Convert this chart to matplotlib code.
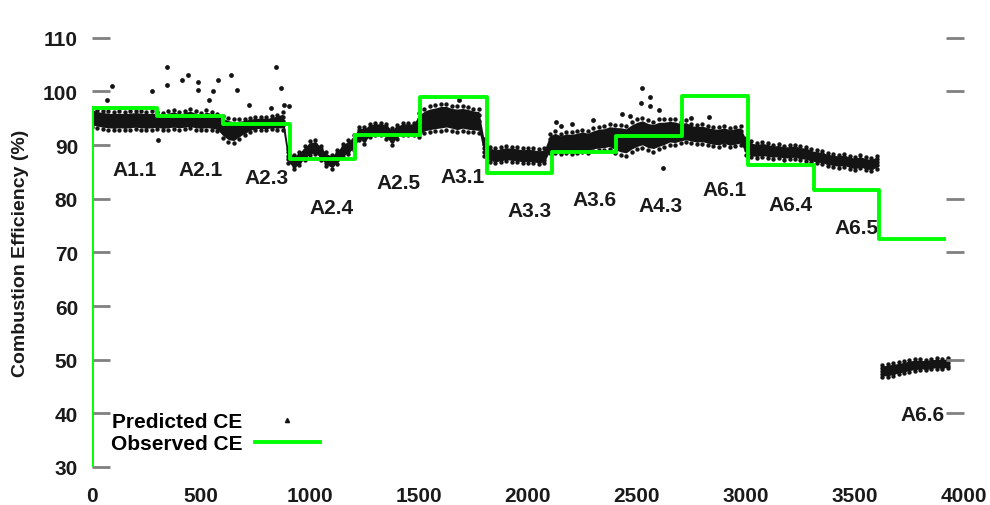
import matplotlib
matplotlib.use('Agg')
import matplotlib.pyplot as plt
from matplotlib.lines import Line2D
import numpy as np

plt.rcParams['font.family'] = ['Liberation Sans', 'DejaVu Sans']
plt.rcParams['font.weight'] = 'bold'

# observed CE step line (x = sample index where each level starts)
obs_x = [0, 0, 300, 600, 910, 1207, 1504, 1810, 2110, 2405, 2705, 3010, 3312, 3612, 3910]
obs_y = [30, 96.9, 95.4, 94.0, 87.4, 91.9, 99.0, 84.8, 88.7, 91.7, 99.2, 86.3, 81.6, 72.5, 72.5]

# predicted CE cloud: centre and half-width, read every 25 samples (0 .. 3600)
pred_x = np.arange(0, 3601, 25)
pred_mid = [
    95.2, 94.9, 94.7, 94.6, 94.5, 94.6, 94.5, 94.6, 94.7, 94.6, 94.5, 94.6,   # A1.1
    94.6, 94.4, 94.6, 94.8, 94.5, 94.7, 94.9, 94.6, 94.4, 94.7, 94.5, 94.2,   # A2.1
    93.4, 92.8, 92.6, 93.0, 93.4, 93.8, 94.0, 94.1, 94.0, 94.2, 94.3, 94.5,   # A2.3
    88.0, 86.8, 87.5, 88.5, 89.4, 89.6, 88.6, 87.4, 86.9, 87.8, 89.0, 89.6,   # A2.4
    90.5, 92.2, 91.8, 92.8, 93.0, 93.0, 92.6, 91.6, 92.5, 93.0, 93.0, 93.0,   # A2.5
    93.8, 94.5, 94.8, 95.0, 95.2, 95.3, 95.0, 94.8, 95.0, 94.8, 94.6, 94.5,   # A3.1
    89.5, 88.3, 88.0, 88.2, 88.4, 88.3, 88.2, 88.0, 88.1, 88.0, 87.8, 88.0,   # A3.3
    90.3, 90.6, 90.2, 90.5, 90.4, 90.6, 90.8, 90.6, 91.0, 91.2, 91.3, 91.6,   # A3.6
    91.2, 91.0, 90.8, 91.5, 92.0, 92.3, 91.8, 91.6, 92.0, 92.2, 92.5, 92.4,   # A4.3
    92.4, 92.6, 92.2, 92.0, 92.1, 91.8, 91.6, 91.5, 91.8, 91.4, 91.6, 91.8,   # A6.1
    89.8, 89.2, 89.0, 89.2, 89.0, 88.8, 88.9, 88.6, 88.7, 88.8, 88.5, 88.4,   # A6.4
    88.0, 87.8, 87.7, 87.3, 87.2, 87.0, 87.2, 86.8, 86.6, 86.9, 86.5, 86.4, 86.8,  # A6.5
]
pred_half = [
    1.8, 1.7, 1.7, 1.7, 1.7, 1.7, 1.7, 1.7, 1.7, 1.7, 1.7, 1.7,
    1.6, 1.6, 1.7, 1.8, 1.6, 1.7, 1.8, 1.7, 1.6, 1.8, 1.7, 1.6,
    2.0, 2.2, 2.2, 1.8, 1.5, 1.3, 1.2, 1.2, 1.2, 1.2, 1.4, 1.6,
    1.3, 1.3, 1.3, 1.3, 1.3, 1.3, 1.3, 1.3, 1.3, 1.3, 1.3, 1.3,
    1.4, 1.2, 1.6, 1.2, 1.2, 1.2, 1.4, 1.6, 1.3, 1.2, 1.2, 1.2,
    2.2, 2.3, 2.4, 2.4, 2.5, 2.4, 2.3, 2.4, 2.3, 2.3, 2.2, 2.2,
    1.6, 1.4, 1.4, 1.4, 1.4, 1.4, 1.4, 1.4, 1.4, 1.4, 1.4, 1.4,
    1.8, 2.0, 1.9, 2.0, 2.0, 2.0, 2.1, 2.0, 2.1, 2.2, 2.2, 2.3,
    2.6, 2.8, 2.8, 2.8, 2.8, 2.8, 2.8, 2.8, 2.8, 2.6, 2.4, 2.4,
    2.0, 2.0, 1.8, 1.8, 1.8, 1.8, 1.8, 1.8, 1.8, 1.8, 1.8, 1.8,
    1.6, 1.5, 1.4, 1.4, 1.4, 1.3, 1.3, 1.3, 1.3, 1.3, 1.3, 1.3,
    1.2, 1.2, 1.2, 1.2, 1.2, 1.2, 1.2, 1.2, 1.2, 1.2, 1.2, 1.2, 1.2,
]

# A6.6 cloud (separate, low)
a66_x = np.arange(3625, 3926, 25)
a66_mid = [47.9, 48.0, 48.2, 48.4, 48.6, 48.9, 49.0, 49.1, 49.0, 49.2, 49.3, 49.2, 49.4]
a66_half = [1.2, 1.2, 1.2, 1.1, 1.1, 1.1, 1.1, 1.0, 1.0, 1.0, 1.0, 1.0, 1.0]

# scattered predicted points away from the dense band
out_x = [91, 68, 274, 302, 343, 343, 411, 439, 485, 485, 539, 553, 576, 640, 667, 722,
         823, 846, 868, 882, 905, 1685, 2130, 2200, 2300, 2150, 2430, 2470, 2519, 2523,
         2560, 2560, 2600, 2619, 2750, 2830]
out_y = [101.0, 98.4, 100.0, 91.0, 104.6, 101.2, 102.2, 103.1, 101.8, 100.3, 98.4, 100.0,
         102.2, 103.1, 100.3, 97.5, 96.9, 104.6, 100.7, 97.5, 97.2, 98.4, 94.3, 94.0, 94.6,
         93.6, 95.8, 95.5, 97.9, 100.7, 99.0, 97.2, 96.6, 85.7, 95.0, 95.3]

# run labels
run_names = ['A1.1', 'A2.1', 'A2.3', 'A2.4', 'A2.5', 'A3.1', 'A3.3', 'A3.6', 'A4.3',
             'A6.1', 'A6.4', 'A6.5', 'A6.6']
run_x = [197, 498, 800, 1100, 1405, 1700, 2005, 2306, 2606, 2903, 3205, 3506, 3808]
run_y = [85.4, 85.4, 83.9, 78.3, 83.0, 84.1, 77.9, 79.8, 78.8, 81.8, 79.0, 74.7, 39.7]

fig = plt.figure(figsize=(9.9, 5.06), dpi=100)
ax = fig.add_axes([0.0929, 0.0751, 0.8808, 0.9012])

dot = '#141414'
txt = '#1a1a1a'
mid = np.array(pred_mid)
half = np.array(pred_half)
ax.fill_between(pred_x, mid - half * 0.8, mid + half * 0.8, color=dot, lw=0)
for k in (-1, -0.5, 0, 0.5, 1):
    ax.scatter(pred_x, mid + k * half, s=10, color=dot, lw=0)
m66 = np.array(a66_mid)
h66 = np.array(a66_half)
ax.fill_between(a66_x, m66 - h66 * 0.8, m66 + h66 * 0.8, color=dot, lw=0)
for k in (-1, -0.5, 0, 0.5, 1):
    ax.scatter(a66_x, m66 + k * h66, s=10, color=dot, lw=0)
ax.scatter(out_x, out_y, s=12, color=dot, lw=0)

ax.plot(obs_x, obs_y, drawstyle='steps-post', color='#00ff00', lw=2.8, zorder=5)

for name, x, y in zip(run_names, run_x, run_y):
    ax.text(x, y, name, ha='center', va='center', fontsize=15, color=txt)

ax.set_xlim(0, 4000)
ax.set_ylim(30, 115)
ax.set_xticks(np.arange(0, 4001, 500))
ax.set_xticks([1500, 2500, 4000], minor=True)
ax.set_yticks(np.arange(30, 111, 10))
for s in ax.spines.values():
    s.set_visible(False)
ax.tick_params(axis='x', which='major', length=0, labelsize=15, pad=14, labelcolor=txt)
ax.tick_params(axis='x', which='minor', direction='in', length=13, width=2,
               color='#808080', top=True, bottom=True)
ax.tick_params(axis='y', direction='in', length=13, width=2, color='#808080',
               labelsize=15, pad=10, labelcolor=txt)
ax.set_ylabel('Combustion Efficiency (%)', fontsize=14, fontweight='bold', color=txt)
ax.yaxis.set_label_coords(-0.072, 0.47)

ax2 = ax.twinx()
ax2.set_ylim(30, 115)
ax2.set_yticks([40, 50, 70, 80, 100, 110])
ax2.set_yticklabels([])
for s in ax2.spines.values():
    s.set_visible(False)
ax2.tick_params(axis='y', direction='in', length=13, width=2, color='#808080')

handles = [Line2D([], [], ls='none', marker='^', ms=3, color=dot),
           Line2D([], [], color='#00ff00', lw=2.8)]
ax.legend(handles, ['Predicted CE', 'Observed CE'], loc='lower left',
          bbox_to_anchor=(0.022, 0.03), frameon=False, markerfirst=False,
          prop={'size': 15, 'weight': 'bold'}, handlelength=3.1, handletextpad=0.6,
          labelspacing=0.15, borderpad=0, borderaxespad=0)

fig.savefig('out.png', dpi=100)
